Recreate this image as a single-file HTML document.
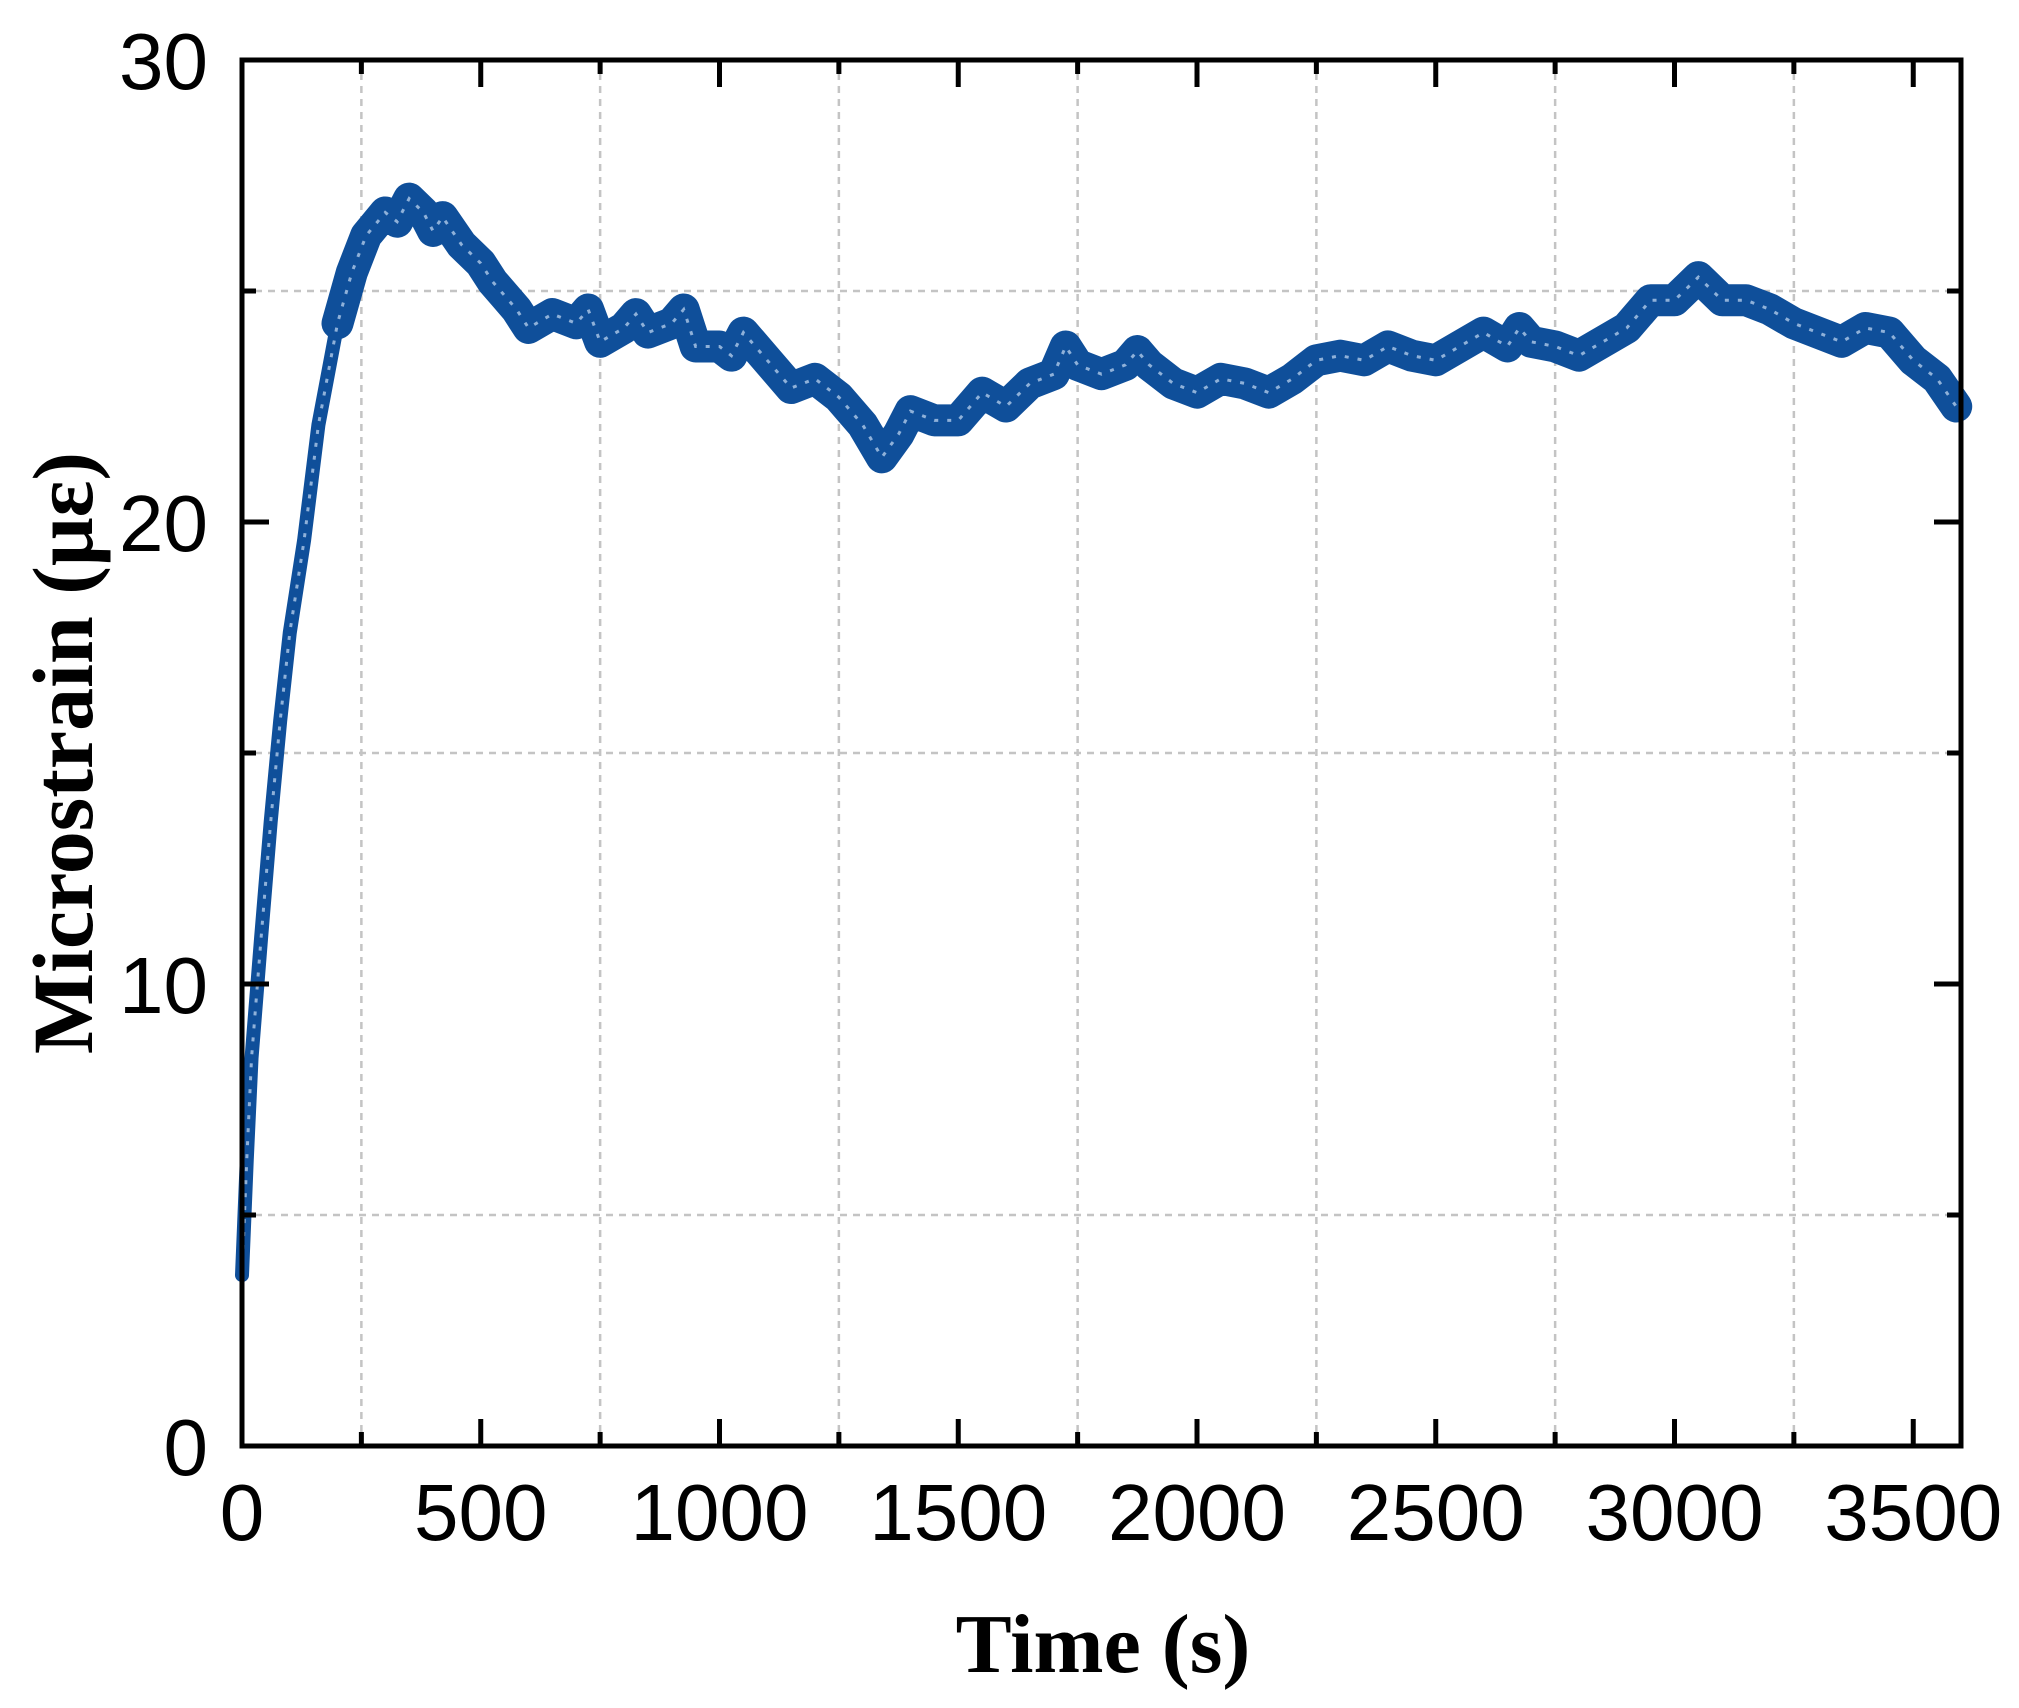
<!DOCTYPE html>
<html><head><meta charset="utf-8"><style>
html,body{margin:0;padding:0;background:#fff;}
svg{display:block;}
</style></head><body>
<svg id="chart" width="2019" height="1708" viewBox="0 0 2019 1708" xmlns="http://www.w3.org/2000/svg">
<g id="grid"></g>
<g id="series"></g>
<g id="axes"></g>
<text transform="translate(92,753) rotate(-90)" text-anchor="middle" font-family="Liberation Serif, serif" font-weight="bold" font-size="86">Microstrain (με)</text>
<text x="1103" y="1672" text-anchor="middle" font-family="Liberation Serif, serif" font-weight="bold" font-size="84">Time (s)</text>
</svg>
<script>
const times = [0,10,20,40,60,80,100,130,160,200,230,260,300,325,350,380,400,420,460,500,525,550,575,600,650,700,725,750,800,825,850,900,925,950,1000,1025,1050,1100,1150,1200,1250,1300,1340,1375,1400,1450,1500,1550,1600,1650,1700,1725,1750,1800,1850,1875,1900,1950,2000,2050,2100,2150,2200,2250,2300,2350,2400,2450,2500,2550,2600,2650,2675,2700,2750,2800,2850,2900,2950,3000,3050,3100,3150,3200,3250,3300,3350,3400,3450,3500,3550,3590];
const strain = [3.7,6.2,8.4,11,13.5,15.7,17.6,19.6,22.1,24.3,25.4,26.2,26.7,26.5,27.0,26.7,26.3,26.6,26.0,25.6,25.2,24.9,24.6,24.2,24.5,24.3,24.6,23.9,24.2,24.5,24.1,24.3,24.6,23.8,23.8,23.6,24.1,23.5,22.9,23.1,22.7,22.1,21.4,21.9,22.4,22.2,22.2,22.8,22.5,23.0,23.2,23.8,23.4,23.2,23.4,23.7,23.4,23.0,22.8,23.1,23.0,22.8,23.1,23.5,23.6,23.5,23.8,23.6,23.5,23.8,24.1,23.8,24.2,23.9,23.8,23.6,23.9,24.2,24.8,24.8,25.3,24.8,24.8,24.6,24.3,24.1,23.9,24.2,24.1,23.5,23.1,22.5];
const xTicks = [0,500,1000,1500,2000,2500,3000,3500];
const yTicks = [0,10,20,30];
const xGrid = [250,750,1250,1750,2250,2750,3250];
const yGrid = [5,15,25];

const L=242,R=1961,T=60,B=1446, XMAX=3600, YMAX=30;
const xs=v=>L+(v/XMAX)*(R-L);
const ys=v=>B-(v/YMAX)*(B-T);
const NS='http://www.w3.org/2000/svg';
function mk(tag,attrs,parent){const e=document.createElementNS(NS,tag);for(const k in attrs)e.setAttribute(k,attrs[k]);parent.appendChild(e);return e;}
const grid=document.getElementById('grid'),axes=document.getElementById('axes'),series=document.getElementById('series');

xGrid.forEach(v=>{const l=mk('line',{x1:xs(v),x2:xs(v),y1:T,y2:B,stroke:'#c4c4c4','stroke-width':2.5,'stroke-dasharray':'7 6'},grid);

});
yGrid.forEach(v=>{const l=mk('line',{x1:L,x2:R,y1:ys(v),y2:ys(v),stroke:'#c4c4c4','stroke-width':2.5,'stroke-dasharray':'7 6'},grid);

});

const ptsAll=times.map((t,i)=>xs(t)+','+ys(strain[i])).join(' ');
const p1=mk('polyline',{points:ptsAll,fill:'none',stroke:'#0f4f9a','stroke-width':14,'stroke-linejoin':'round','stroke-linecap':'round'},series);


const idx=times.findIndex(t=>t>=200);
const ptsLate=times.slice(idx).map((t,i)=>xs(t)+','+ys(strain[i+idx])).join(' ');
const p2=mk('polyline',{points:ptsLate,fill:'none',stroke:'#0f4f9a','stroke-width':32,'stroke-linejoin':'round','stroke-linecap':'round'},series);


const p3=mk('polyline',{points:ptsAll,fill:'none',stroke:'#8fb1d9','stroke-width':3,'stroke-dasharray':'4 9'},series);



const fr=mk('rect',{x:L,y:T,width:R-L,height:B-T,fill:'none',stroke:'#000','stroke-width':5},axes);



xTicks.forEach(v=>{const x=xs(v);
 mk('line',{x1:x,x2:x,y1:B,y2:B-27,stroke:'#000','stroke-width':5},axes);
 mk('line',{x1:x,x2:x,y1:T,y2:T+27,stroke:'#000','stroke-width':5},axes);
 const t=mk('text',{x:x,y:1540,'text-anchor':'middle','font-family':'Liberation Sans, sans-serif','font-size':80},axes);
 t.textContent=v;
 
 });
xGrid.forEach(v=>{const x=xs(v);
 mk('line',{x1:x,x2:x,y1:B,y2:B-14,stroke:'#000','stroke-width':5},axes);
 mk('line',{x1:x,x2:x,y1:T,y2:T+14,stroke:'#000','stroke-width':5},axes);});
yTicks.forEach(v=>{const y=ys(v);
 mk('line',{x1:L,x2:L+27,y1:y,y2:y,stroke:'#000','stroke-width':5},axes);
 mk('line',{x1:R,x2:R-27,y1:y,y2:y,stroke:'#000','stroke-width':5},axes);
 const t=mk('text',{x:208,y:y+29,'text-anchor':'end','font-family':'Liberation Sans, sans-serif','font-size':80},axes);
 t.textContent=v;
 
 });
yGrid.forEach(v=>{const y=ys(v);
 mk('line',{x1:L,x2:L+14,y1:y,y2:y,stroke:'#000','stroke-width':5},axes);
 mk('line',{x1:R,x2:R-14,y1:y,y2:y,stroke:'#000','stroke-width':5},axes);});
</script>
</body></html>
